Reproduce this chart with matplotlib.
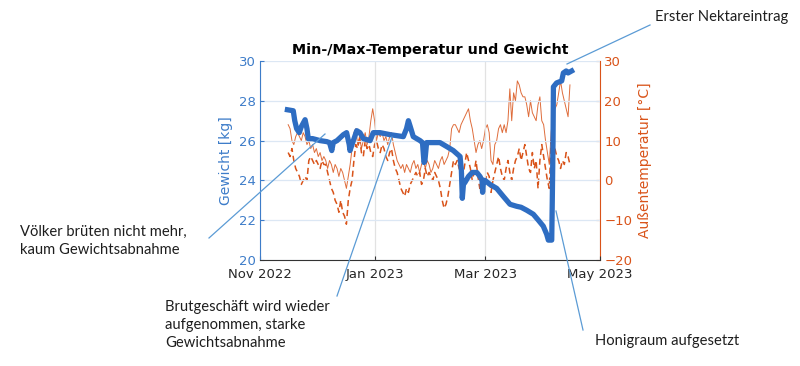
import matplotlib
matplotlib.use("Agg")
import matplotlib.pyplot as plt
import matplotlib.dates as mdates
import numpy as np
import pandas as pd

# Tageswerte der Temperatur ab 16.11.2022
temp_start = "2022-11-16"
t_max = [14, 13, 10, 9, 11, 12, 11, 10, 12, 11,
         9, 10, 8, 9, 7, 8, 6, 7, 5, 6,
         5, 3, 5, 4, 2, 4, 3, 1, 3, 2,
         0, -2, 1, 4, 8, 12, 13, 9, 11, 8,
         10, 12, 9, 11, 15, 18, 15, 10, 12, 11,
         12, 10, 11, 9, 11, 12, 9, 7, 5, 4,
         3, 4, 2, 4, 3, 2, 4, 5, 3, 4,
         2, 4, 5, 3, 5, 4, 2, 3, 5, 4,
         3, 5, 6, 4, 5, 6, 8, 13, 14, 14,
         13, 12, 14, 15, 16, 17, 18, 15, 13, 10,
         7, 9, 10, 8, 10, 13, 14, 12, 5, 4,
         9, 10, 13, 14, 12, 14, 12, 15, 23, 15,
         22, 20, 25, 24, 22, 21, 21, 19, 16, 20,
         17, 16, 15, 19, 21, 15, 14, 10, 7, 4,
         12, 17, 18, 19, 22, 25, 22, 20, 18, 16, 24]
t_min = [7, 6, 8, 5, 3, 2, 1, -1, 0, 1,
         0, 5, 6, 5, 4, 5, 4, 3, 5, 4,
         4, 2, 0, -2, -3, -5, -6, -8, -5, -8,
         -9, -11, -5, -2, 0, 5, 9, 8, 11, 7,
         6, 10, 8, 9, 7, 6, 9, 10, 8, 7,
         9, 8, 6, 5, 7, 8, 5, 3, 2, 0,
         -2, -3, -4, -2, -3, -1, 0, 1, 2, 1,
         2, -1, 0, 3, 1, 2, 1, 0, 2, 1,
         0, -2, -5, -7, -6, -4, -1, 2, 5, 4,
         5, 3, 2, 1, 4, 7, 5, 3, 0, 2,
         5, 1, -2, -1, -2, 0, 2, 1, -3, 0,
         2, 4, 6, 3, 1, 0, 3, 5, 2, 0,
         3, 5, 6, 8, 5, 7, 9, 6, 3, 2,
         7, 3, 5, -2, 5, 9, 6, 3, 0, -2,
         10, 7, 8, 6, 5, 3, 5, 4, 7, 6, 4]

# Gewicht: Tage seit 01.11.2022 und kg
w_day = [14.6, 17.7, 18.5, 19.5, 20.9, 22, 24, 25, 25.7, 28, 32, 35.5, 37, 38.2,
         39, 41, 44.4, 46.1, 47.5, 47.9, 49.7, 51.5, 53.2, 55, 58.6, 60.3, 63.9,
         69.2, 76.3, 78, 79, 80, 81.6, 85.2, 86.5, 87.3, 87.8, 88.7, 95.8, 99.4,
         102.9, 106.5, 107.2, 107.7, 108.3, 109.1, 111, 113, 115.4, 117.1, 118.2,
         118.5, 119, 119.8, 122.4, 126, 129.5, 131.3, 133.1, 136.6, 139, 142,
         145.5, 148.2, 150.8, 152.6, 153.5, 155.3, 155.6, 156.0, 156.2, 157.9,
         160.6, 161.5, 163, 164, 165.9]
w_kg = [27.55, 27.5, 27.0, 26.6, 26.4, 26.7, 27.05, 26.6, 26.1, 26.1, 26.0, 25.95,
        25.9, 25.5, 25.9, 26.0, 26.3, 26.4, 25.8, 25.5, 26.0, 26.5, 26.4, 26.1,
        26.0, 26.4, 26.4, 26.3, 26.2, 26.6, 27.0, 26.7, 26.2, 26.0, 25.9, 24.9,
        25.0, 25.9, 25.9, 25.7, 25.5, 25.2, 24.5, 23.1, 23.8, 23.9, 24.2, 24.4,
        24.4, 24.2, 24.0, 23.4, 24.0, 24.0, 23.8, 23.6, 23.2, 23.0, 22.8, 22.7,
        22.65, 22.5, 22.3, 22.0, 21.7, 21.3, 21.0, 21.0, 23.0, 26.0, 28.7, 28.9,
        29.0, 29.4, 29.5, 29.4, 29.5]

blue = "#2E6DC2"
blue_lbl = "#3D7CC9"
red = "#D95319"

t_dates = pd.date_range(temp_start, periods=len(t_max), freq="D")
w_dates = pd.Timestamp("2022-11-01") + pd.to_timedelta(w_day, unit="D")

fig = plt.figure(figsize=(8, 3.66), dpi=100)
ax = fig.add_axes([0.325, 0.2896, 0.425, 0.5437])
ax2 = ax.twinx()

# Temperatur rechts
ax2.plot(t_dates, t_max, color=red, lw=0.7, alpha=0.85)
ax2.plot(t_dates, t_min, color=red, lw=1.1, ls=(0, (4, 2.5)))
ax2.set_ylim(-20, 30)
ax2.set_yticks([-20, -10, 0, 10, 20, 30])
ax2.set_ylabel("Außentemperatur [°C]", color=red, fontsize=10)

# Gewicht links
ax.plot(w_dates, w_kg, color=blue, lw=3.8, solid_joinstyle="round")
ax.set_ylim(20, 30)
ax.set_yticks([20, 22, 24, 26, 28, 30])
ax.set_ylabel("Gewicht [kg]", color=blue_lbl, fontsize=10, labelpad=4)
ax.set_zorder(ax2.get_zorder() + 1)
ax.patch.set_visible(False)

ax.set_xlim(pd.Timestamp("2022-11-01"), pd.Timestamp("2023-05-01"))
ax.set_xticks(pd.to_datetime(["2022-11-01", "2023-01-01", "2023-03-01", "2023-05-01"]))
ax.xaxis.set_major_formatter(mdates.DateFormatter("%b %Y"))

ax.grid(axis="y", color="#DCE7F4", lw=0.9)
ax.grid(axis="x", color="#E2E2E2", lw=0.9)
ax.set_axisbelow(True)

for a in (ax, ax2):
    a.spines["top"].set_visible(False)
    a.tick_params(direction="in", length=3, labelsize=9.5, pad=3)
ax.tick_params(axis="x", pad=6)
ax.spines["left"].set_color(blue_lbl)
ax.spines["right"].set_visible(False)
ax.spines["bottom"].set_color("#333333")
ax2.spines["right"].set_color(red)
ax2.spines["left"].set_visible(False)
ax2.spines["bottom"].set_visible(False)
ax.tick_params(axis="y", colors=blue_lbl)
ax.tick_params(axis="x", colors="#333333", labelcolor="#262626")
ax2.tick_params(axis="y", colors=red)

ax.set_title("Min-/Max-Temperatur und Gewicht", fontsize=10.3, fontweight="bold", pad=5)

# Anmerkungen mit Linien (Pixelkoordinaten der Abbildung)
W, H = 800, 366
note_font = dict(family=["Lato", "DejaVu Sans"], fontsize=10.6, color="#1E1E1E")
line_col = "#5B9BD5"

def note(text, tx, ty, p0, p1):
    fig.text(tx / W, 1 - ty / H, text, ha="left", va="top", linespacing=1.35, **note_font)
    fig.add_artist(plt.Line2D([p0[0] / W, p1[0] / W], [1 - p0[1] / H, 1 - p1[1] / H],
                              color=line_col, lw=0.9))

note("Erster Nektareintrag", 655, 10, (567, 64), (650, 25))
note("Völker brüten nicht mehr,\nkaum Gewichtsabnahme", 20, 225, (209, 238), (325, 134))
note("Brutgeschäft wird wieder\naufgenommen, starke\nGewichtsabnahme", 165, 300, (337, 296), (392, 137))
note("Honigraum aufgesetzt", 595, 334, (556, 211), (583, 330))

fig.savefig("out.png", dpi=100, facecolor="white")
